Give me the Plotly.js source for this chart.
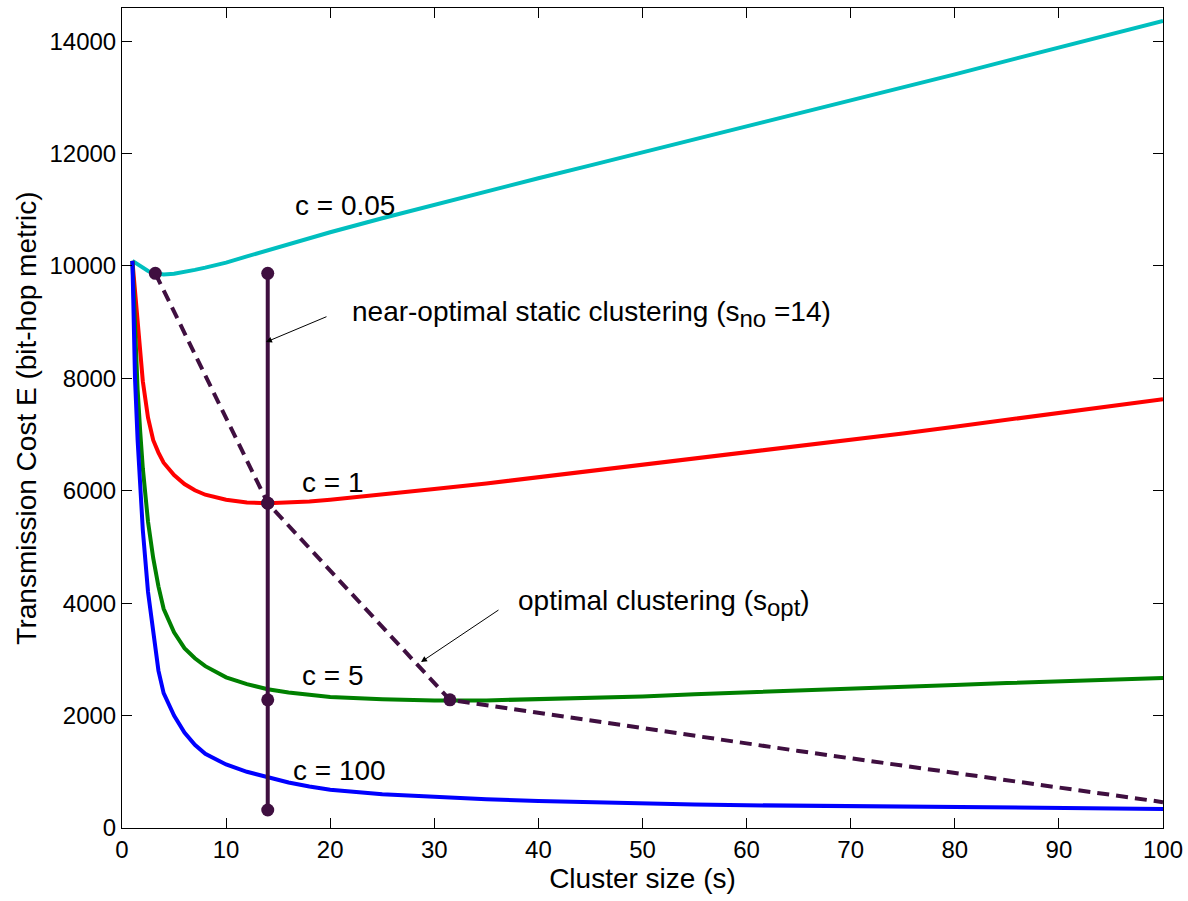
<!DOCTYPE html>
<html>
<head>
<meta charset="utf-8">
<script src="https://cdn.plot.ly/plotly-3.0.1.min.js"></script>
<style>html,body{margin:0;padding:0;background:#fff;}#chart{width:1188px;height:901px;}</style>
</head>
<body>
<div id="chart"></div>
<script>
// Cluster size values (shared by all curves)
const sValues = [1,1.25,1.5,1.75,2,2.5,3,3.5,4,5,6,7,8,10,12,14,16,18,20,25,30,35,40,45,50,55,60,65,70,75,80,85,90,95,100];
// Transmission cost for each c
const costC005 = [10090,10060,10030,10000,9960,9910,9880,9860,9850,9860,9890,9930,9970,10060,10170,10280,10390,10490,10600,10850,11090,11320,11560,11790,12020,12250,12480,12710,12940,13180,13410,13650,13890,14120,14360];
const costC1 = [10090,9550,9000,8450,7950,7300,6900,6680,6500,6280,6120,6010,5930,5840,5790,5780,5790,5810,5840,5930,6030,6130,6240,6350,6460,6570,6680,6790,6900,7020,7140,7260,7380,7500,7630];
const costC5 = [10090,8900,7800,7050,6400,5450,4800,4300,3900,3480,3200,3020,2880,2680,2560,2470,2410,2370,2330,2290,2270,2270,2290,2310,2340,2380,2410,2440,2480,2510,2545,2580,2610,2640,2670];
const costC100 = [10090,8000,6900,5960,5300,4200,3450,2800,2400,2000,1700,1480,1320,1130,1000,900,810,740,680,600,550,510,480,455,435,420,405,395,385,375,365,358,350,345,340];
// Near-optimal static clustering (s_no = 14)
const staticS = [14,14,14,14];
const staticCost = [9870,5780,2280,320];
// Optimal clustering locus (s_opt)
const optS = [3.2,14,31.5,65,100];
const optCost = [9870,5780,2280,1370,460];
const optMarkS = [3.2,14,31.5];
const optMarkCost = [9870,5780,2280];

const xTicks = [0,10,20,30,40,50,60,70,80,90,100];
const yTicks = [0,2000,4000,6000,8000,10000,12000,14000];

const purple = '#3f0f40';
const FONT = 'Arial, "Liberation Sans", sans-serif';
const TXT = 28;

const traces = [
  {x:sValues, y:costC005, mode:'lines', line:{color:'#00bfbf', width:4}},
  {x:sValues, y:costC1, mode:'lines', line:{color:'#ff0000', width:4}},
  {x:sValues, y:costC5, mode:'lines', line:{color:'#008000', width:4}},
  {x:sValues, y:costC100, mode:'lines', line:{color:'#0000ff', width:4}},
  {x:optS, y:optCost, mode:'lines', line:{color:purple, width:4, dash:'12px,7px'}},
  {x:optMarkS, y:optMarkCost, mode:'markers', marker:{color:purple, size:13}},
  {x:staticS, y:staticCost, mode:'lines+markers', line:{color:purple, width:4}, marker:{color:purple, size:13}}
];

const ann = (x,y,text,xa) => ({x:x, y:y, xref:'x', yref:'y', text:text, showarrow:false, xanchor:xa||'center', yanchor:'middle', font:{family:FONT, size:TXT, color:'#000'}});

const layout = {
  width:1188, height:901,
  margin:{l:122, r:25, t:8, b:73},
  paper_bgcolor:'#fff', plot_bgcolor:'#fff',
  showlegend:false,
  font:{family:FONT, size:24, color:'#000'},
  xaxis:{range:[0,100], tickvals:xTicks, ticktext:xTicks.map(String), ticks:'inside', ticklen:10, tickcolor:'#000', tickwidth:1,
         showline:true, linecolor:'#000', linewidth:1, mirror:'ticks', showgrid:false, zeroline:false,
         tickfont:{family:FONT, size:24}, title:{text:'Cluster size (s)', font:{family:FONT, size:TXT}, standoff:2}},
  yaxis:{range:[0,14590], tickvals:yTicks, ticktext:yTicks.map(String), ticks:'inside', ticklen:10, tickcolor:'#000', tickwidth:1,
         showline:true, linecolor:'#000', linewidth:1, mirror:'ticks', showgrid:false, zeroline:false,
         tickfont:{family:FONT, size:24}, title:{text:'Transmission Cost E (bit-hop metric)', font:{family:FONT, size:TXT}, standoff:4}},
  annotations:[
    ann(21.4, 11083, 'c = 0.05'),
    ann(20.2, 6155, 'c = 1'),
    ann(20.2, 2722, 'c = 5'),
    ann(20.9, 1032, 'c = 100'),
    ann(21.9, 9144, 'near-optimal static clustering (s<sub><span style="font-size:24px">no</span></sub> =14)', 'left'),
    ann(37.85, 4003, 'optimal clustering (s<sub><span style="font-size:24px">opt</span></sub>)', 'left'),
    {x:13.83, y:8646, xref:'x', yref:'y', text:'', showarrow:true, ax:62, ay:-26, arrowhead:2, arrowsize:1.2, arrowwidth:1, arrowcolor:'#000', standoff:0},
    {x:28.72, y:2953, xref:'x', yref:'y', text:'', showarrow:true, ax:79, ay:-53, arrowhead:2, arrowsize:1.2, arrowwidth:1, arrowcolor:'#000', standoff:0}
  ]
};

Plotly.newPlot('chart', traces, layout, {displayModeBar:false, staticPlot:true});
</script>
</body>
</html>
